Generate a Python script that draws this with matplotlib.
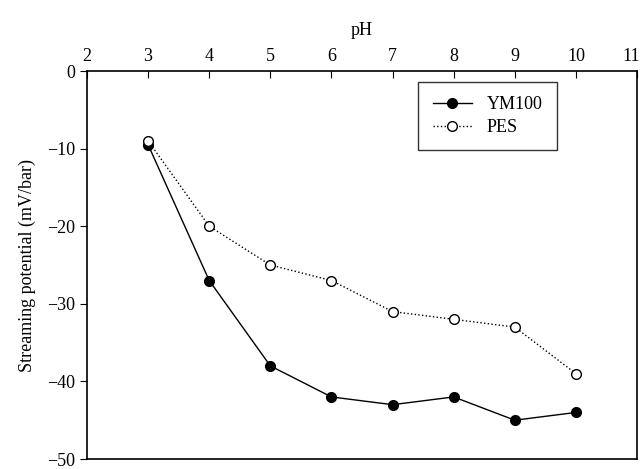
import matplotlib
matplotlib.use("Agg")
import matplotlib.pyplot as plt
import matplotlib.transforms as mtransforms

plt.rcParams['font.family'] = ['Liberation Serif', 'DejaVu Serif']

ph = [3, 4, 5, 6, 7, 8, 9, 10]
ym100 = [-9.5, -27, -38, -42, -43, -42, -45, -44]
pes = [-9, -20, -25, -27, -31, -32, -33, -39]
x_ticks = [2, 3, 4, 5, 6, 7, 8, 9, 10, 11]
y_ticks = [0, -10, -20, -30, -40, -50]

fig = plt.figure(figsize=(6.41, 4.69), dpi=100)
ax = fig.add_axes([0.1357, 0.0213, 0.8581, 0.8273])

ax.plot(ph, ym100, '-', color='black', lw=1.0, marker='o', ms=7,
        mfc='black', mec='black', label='YM100')
ax.plot(ph, pes, ':', color='black', lw=1.0, marker='o', ms=7,
        mfc='white', mec='black', label='PES')

ax.set_xlim(2, 11)
ax.set_ylim(-50, 0)
ax.xaxis.tick_top()
ax.xaxis.set_label_position('top')
ax.set_xticks(x_ticks)
ax.set_yticks(y_ticks)
ax.set_yticklabels(['0', '\u221210', '\u221220', '\u221230', '\u221240', '\u221250'])
ax.tick_params(axis='x', direction='in', length=5, labelsize=13, pad=4)
ax.tick_params(axis='y', direction='out', length=5, labelsize=13)
ax.set_xlabel('pH', fontsize=13, labelpad=10)
ax.set_ylabel('Streaming potential (mV/bar)', fontsize=13, labelpad=8)
for s in ax.spines.values():
    s.set_linewidth(1.2)

# keep the last top tick label inside the figure edge
last = ax.get_xticklabels()[-1]
last.set_transform(last.get_transform() +
                   mtransforms.ScaledTranslation(-4 / 72, 0, fig.dpi_scale_trans))

leg = ax.legend(loc='upper right', bbox_to_anchor=(0.8545, 0.9716), fontsize=13,
                frameon=True, fancybox=False, edgecolor='black', borderaxespad=0,
                handlelength=2.2, borderpad=0.8, labelspacing=0.3)
leg.get_frame().set_linewidth(1.0)

fig.savefig('out.png', dpi=100)
